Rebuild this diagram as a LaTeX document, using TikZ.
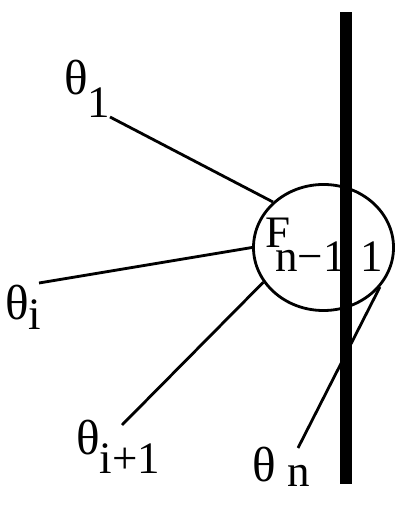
\documentclass[tikz,border=0pt]{standalone}
\usepackage{fontspec}
\setmainfont{Liberation Serif}
\usetikzlibrary{shapes.geometric}
\newcommand{\thet}{{\fontsize{35}{40}\selectfont θ}}
\begin{document}
\begin{tikzpicture}[x=0.025cm,y=0.025cm,
  lbl/.style={inner sep=0pt,anchor=base west,font=\fontsize{32}{38}\selectfont},
  wire/.style={line width=2pt}]
\useasboundingbox (0,0) rectangle (400,512);

\node[ellipse,draw,wire,minimum width=3.5cm,minimum height=3.15cm,inner sep=0pt] (F) at (323.5,264.5) {};

\node[lbl] (t1) at (64,417) {\thet\raisebox{-16pt}{1}};
\node[lbl] (ti) at (5,192) {\thet\raisebox{-7pt}{i}};
\node[lbl] (ti1) at (76,57) {\thet\raisebox{-13pt}{i+1}};
\node[lbl] (tn) at (252,30) {\thet\ \raisebox{-3.5pt}{n}};
\node[lbl] (Fl) at (265,264) {F};
\node[lbl] (Fs) at (275,240) {n−1};
\node[lbl] (Fr) at (360,240) {1};

\coordinate (a1) at (110,395);
\coordinate (ai) at (39,229);
\coordinate (ai1) at (122,87);
\coordinate (an) at (298,64);
\foreach \p/\a in {a1/138,ai/180,ai1/210,an/-35}
{\draw[wire] (\p) -- (F.\a);}

\fill (340,28) rectangle (352,500);

\end{tikzpicture}
\end{document}
